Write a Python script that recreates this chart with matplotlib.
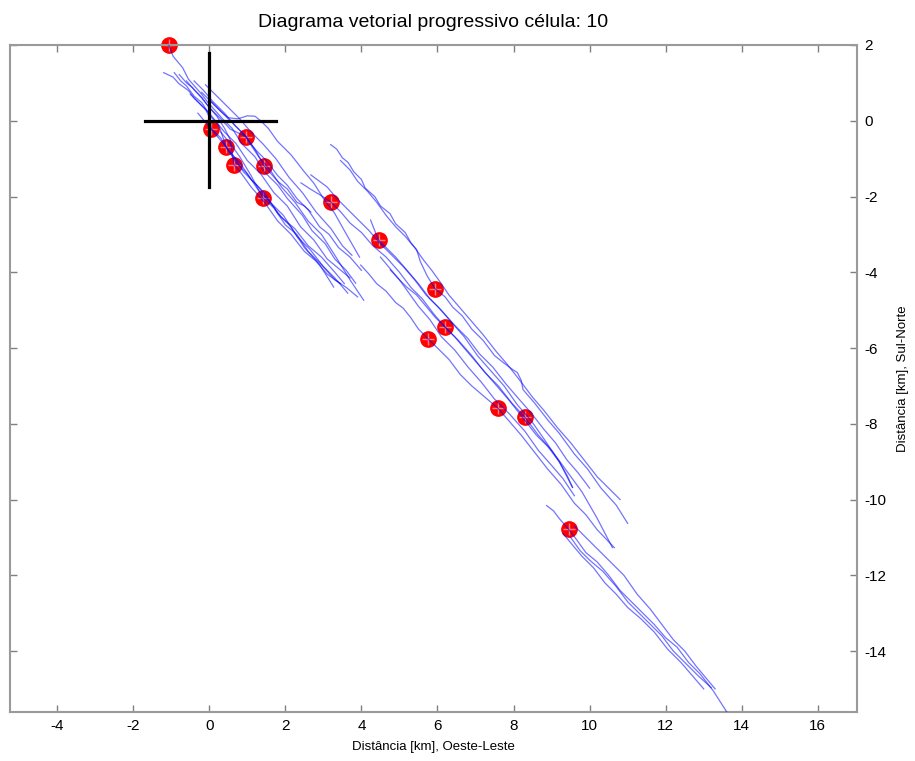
import matplotlib
matplotlib.use("Agg")
import matplotlib.pyplot as plt

plt.rcParams['font.family'] = ['Liberation Sans', 'DejaVu Sans']
plt.rcParams['axes.unicode_minus'] = False

# red markers (cell positions)
marker_x = [-1.07, 0.05, 0.445, 0.97, 0.65, 1.44, 1.41, 3.19, 4.45, 5.94, 6.20, 5.76, 7.59, 8.30, 9.45]
marker_y = [2.01, -0.21, -0.69, -0.42, -1.16, -1.19, -2.04, -2.14, -3.15, -4.44, -5.45, -5.77, -7.59, -7.83, -10.79]

# progressive vector tracks, each a list of (x, y) in km
tracks = [
    # upper-left dense band
    [(-1.07, 2.01), (-0.95, 1.7), (-0.7, 1.4), (-0.55, 1.1), (-0.2, 0.7), (-0.05, 0.5), (0.35, 0.05),
     (0.6, -0.2), (0.85, -0.6), (1.2, -0.95), (1.45, -1.35), (1.8, -1.7), (2.05, -2.05), (2.45, -2.5),
     (2.7, -2.9), (3.05, -3.25), (3.3, -3.65), (3.6, -3.95), (3.85, -4.29)],
    [(-1.2, 1.27), (-0.95, 1.15), (-0.8, 0.98), (-0.55, 0.8), (-0.4, 0.6), (-0.1, 0.3), (0.0, 0.1),
     (0.05, -0.21), (0.3, -0.45), (0.5, -0.8), (0.8, -1.1), (1.1, -1.55), (1.45, -1.9), (1.8, -2.45),
     (2.15, -2.8), (2.5, -3.35), (2.9, -3.8), (3.27, -4.39)],
    [(-0.92, 1.27), (-0.75, 1.05), (-0.6, 0.92), (-0.4, 0.65), (-0.2, 0.48), (0.05, 0.1), (0.25, -0.12),
     (0.445, -0.69), (0.65, -0.95), (0.9, -1.35), (1.25, -1.7), (1.6, -2.15), (1.95, -2.5), (2.3, -3.05),
     (2.65, -3.4), (3.0, -3.85), (3.3, -4.15), (3.64, -4.55)],
    [(-0.79, 1.22), (-0.6, 1.0), (-0.45, 0.88), (-0.2, 0.6), (0.0, 0.35), (0.3, 0.05), (0.55, -0.22),
     (0.97, -0.42), (1.1, -0.65), (1.3, -0.95), (1.6, -1.3), (1.9, -1.75), (2.25, -2.15), (2.6, -2.65),
     (2.95, -3.0), (3.3, -3.55), (3.7, -4.2), (4.06, -4.74)],
    [(-0.6, 1.05), (-0.4, 0.82), (-0.2, 0.62), (0.0, 0.35), (0.2, 0.12), (0.4, -0.2), (0.55, -0.5),
     (0.65, -1.16), (0.85, -1.4), (1.1, -1.75), (1.45, -2.15), (1.8, -2.65), (2.15, -3.0), (2.5, -3.45),
     (2.8, -3.7), (3.1, -4.05), (3.45, -4.3)],
    [(-0.2, 0.75), (0.05, 0.5), (0.3, 0.25), (0.6, -0.05), (0.9, -0.35), (1.2, -0.75), (1.44, -1.19),
     (1.8, -1.6), (2.05, -1.8), (2.3, -2.15), (2.5, -2.25), (2.67, -2.41)],
    [(0.0, 0.55), (0.3, 0.25), (0.5, 0.08), (0.75, 0.05), (1.0, 0.13), (1.2, 0.12), (1.35, 0.0),
     (1.55, -0.2), (1.8, -0.55), (2.15, -0.9), (2.5, -1.35), (2.75, -1.65), (3.0, -2.05), (3.3, -2.45),
     (3.55, -2.9), (3.75, -3.25), (3.95, -3.6)],
    [(0.3, -0.3), (0.55, -0.6), (0.8, -0.95), (1.1, -1.45), (1.41, -2.04), (1.7, -2.3), (2.0, -2.75),
     (2.3, -3.0), (2.6, -3.45), (2.95, -3.8), (3.3, -4.2), (3.6, -4.4), (3.9, -4.65)],
    [(-0.3, 0.2), (-0.05, -0.1), (0.2, -0.4), (0.45, -0.7), (0.7, -1.1), (1.0, -1.4), (1.3, -1.85),
     (1.6, -2.15), (1.9, -2.55), (2.25, -2.85), (2.6, -3.3), (2.95, -3.6), (3.3, -4.0), (3.55, -4.3)],
    [(-0.5, 0.7), (-0.25, 0.45), (0.0, 0.2), (0.2, -0.05), (0.4, -0.3), (0.7, -0.6), (1.0, -1.05),
     (1.35, -1.4), (1.7, -1.9), (2.05, -2.25), (2.4, -2.8), (2.75, -3.15), (3.1, -3.65), (3.4, -3.9),
     (3.7, -4.15)],
    [(-0.4, 1.05), (-0.15, 0.8), (0.1, 0.5), (0.4, 0.2), (0.7, -0.15), (0.95, -0.4), (1.2, -0.75),
     (1.5, -1.05), (1.8, -1.45), (2.05, -1.7), (2.3, -2.05), (2.6, -2.35), (2.9, -2.8), (3.15, -3.0),
     (3.4, -3.35), (3.7, -3.6), (4.0, -3.95)],
    [(-0.1, 0.95), (0.15, 0.7), (0.45, 0.4), (0.8, 0.05), (1.1, -0.3), (1.4, -0.6), (1.75, -1.0),
     (2.1, -1.5), (2.45, -1.9), (2.8, -2.4), (3.2, -2.85), (3.5, -3.3), (3.75, -3.55)],
    # upper right long track
    [(3.19, -0.63), (3.35, -0.75), (3.5, -0.98), (3.65, -1.1), (3.8, -1.35), (4.0, -1.55), (4.1, -1.78),
     (4.35, -2.0), (4.5, -2.25), (4.75, -2.45), (4.9, -2.72), (5.15, -2.95), (5.3, -3.22), (5.45, -3.4),
     (5.55, -3.72), (5.73, -4.1), (5.94, -4.44), (6.2, -4.65), (6.4, -4.92), (6.65, -5.15), (6.9, -5.5),
     (7.2, -5.8), (7.5, -6.2), (7.75, -6.4), (7.95, -6.55), (8.1, -6.65), (8.2, -6.85), (8.25, -7.1),
     (8.55, -7.45), (8.9, -7.9), (9.2, -8.25), (9.6, -8.8), (9.95, -9.2), (10.3, -9.7), (10.7, -10.15),
     (11.0, -10.63)],
    [(3.45, -1.05), (3.7, -1.3), (3.9, -1.6), (4.15, -1.85), (4.4, -2.15), (4.65, -2.5), (4.9, -2.8),
     (5.15, -3.05), (5.4, -3.35), (5.65, -3.7), (5.85, -3.95), (6.1, -4.3), (6.3, -4.6), (6.6, -4.95),
     (6.9, -5.3), (7.2, -5.65), (7.55, -6.1), (7.85, -6.45), (8.2, -6.9), (8.5, -7.3), (8.8, -7.65),
     (9.15, -8.1), (9.5, -8.5), (9.85, -8.95), (10.2, -9.4), (10.5, -9.7), (10.8, -10.0)],
    # middle band
    [(2.41, -1.64), (2.65, -1.8), (2.9, -1.95), (3.19, -2.14), (3.45, -2.4), (3.7, -2.7), (4.0, -2.95),
     (4.3, -3.3), (4.65, -3.6), (5.0, -4.0), (5.3, -4.4), (5.6, -4.7), (5.9, -5.1), (6.2, -5.45),
     (6.55, -5.8), (6.9, -6.2), (7.25, -6.65), (7.6, -7.0), (7.95, -7.45), (8.3, -7.83), (8.65, -8.3),
     (9.0, -8.7), (9.4, -9.25), (9.8, -9.8), (10.2, -10.5), (10.6, -11.27)],
    [(2.67, -1.43), (2.9, -1.6), (3.1, -1.75), (3.35, -2.05), (3.6, -2.3), (3.9, -2.6), (4.2, -2.9),
     (4.5, -3.25), (4.8, -3.55), (5.1, -3.85), (5.4, -4.2), (5.7, -4.6), (6.0, -4.9), (6.35, -5.3),
     (6.7, -5.7), (7.05, -6.2), (7.4, -6.6), (7.75, -7.0), (8.1, -7.5), (8.45, -7.9), (8.8, -8.4),
     (9.2, -9.0), (9.55, -9.68)],
    [(4.24, -2.62), (4.35, -2.9), (4.45, -3.15), (4.65, -3.35), (4.9, -3.6), (5.2, -3.95), (5.5, -4.3),
     (5.8, -4.7), (6.1, -5.0), (6.45, -5.4), (6.8, -5.75), (7.1, -6.15), (7.45, -6.5), (7.8, -6.95),
     (8.1, -7.3), (8.45, -7.7), (8.8, -8.15), (9.1, -8.5), (9.4, -8.95), (9.7, -9.3), (10.0, -9.7)],
    # lower band
    [(3.98, -3.81), (4.2, -4.05), (4.4, -4.3), (4.65, -4.5), (4.9, -4.8), (5.1, -4.95), (5.29, -5.19),
     (5.5, -5.5), (5.76, -5.77), (6.0, -6.0), (6.3, -6.3), (6.6, -6.7), (6.9, -7.0), (7.25, -7.3),
     (7.59, -7.59), (7.9, -7.95), (8.2, -8.3), (8.55, -8.75), (8.9, -9.2), (9.25, -9.6), (9.6, -10.1),
     (9.9, -10.4), (10.2, -10.8), (10.65, -11.27)],
    [(4.76, -3.94), (5.0, -4.2), (5.2, -4.4), (5.45, -4.6), (5.7, -4.9), (5.95, -5.2), (6.2, -5.45),
     (6.45, -5.7), (6.7, -6.0), (7.0, -6.35), (7.3, -6.7), (7.6, -7.05), (7.9, -7.4), (8.25, -7.85),
     (8.6, -8.3), (8.9, -8.6), (9.2, -9.0), (9.4, -9.35), (9.55, -9.68)],
    [(4.5, -3.6), (4.75, -3.9), (5.0, -4.2), (5.25, -4.55), (5.5, -4.9), (5.8, -5.25), (6.1, -5.7),
     (6.45, -6.05), (6.8, -6.5), (7.15, -6.9), (7.5, -7.35), (7.9, -7.75), (8.3, -8.2), (8.65, -8.7),
     (9.0, -9.1), (9.3, -9.45), (9.6, -9.9)],
    # bottom long band
    [(8.87, -10.16), (9.05, -10.3), (9.2, -10.5), (9.45, -10.79), (9.65, -11.05), (9.9, -11.4),
     (10.2, -11.65), (10.5, -12.0), (10.8, -12.4), (11.1, -12.7), (11.4, -13.0), (11.7, -13.3),
     (12.0, -13.65), (12.3, -13.9), (12.6, -14.3), (12.9, -14.6), (13.25, -15.05), (13.6, -15.6)],
    [(9.5, -11.0), (9.75, -11.35), (10.0, -11.6), (10.35, -11.9), (10.7, -12.3), (11.0, -12.7),
     (11.3, -13.0), (11.6, -13.3), (11.9, -13.6), (12.2, -14.0), (12.5, -14.3), (12.85, -14.65),
     (13.2, -14.97)],
    [(9.3, -10.9), (9.55, -11.2), (9.8, -11.5), (10.1, -11.8), (10.4, -12.2), (10.7, -12.5),
     (11.0, -12.85), (11.35, -13.15), (11.7, -13.5), (12.05, -13.95), (12.4, -14.3), (12.7, -14.65),
     (13.0, -15.0)],
    [(9.6, -10.7), (9.9, -11.0), (10.2, -11.3), (10.55, -11.65), (10.9, -12.0), (11.25, -12.5),
     (11.6, -12.9), (11.9, -13.3), (12.2, -13.7), (12.5, -14.0), (12.8, -14.4), (13.05, -14.7),
     (13.3, -15.0)],
]

# origin cross
cross_h = ([-1.68, 1.75], [0, 0])
cross_v = ([0, 0], [1.8, -1.75])

fig = plt.figure(figsize=(9.15, 7.61), dpi=100)
ax = fig.add_axes([10 / 915, 1 - 712 / 761, 847 / 915, 667 / 761])

ax.plot(marker_x, marker_y, 'o', color='red', ms=11, mec='red', zorder=2, clip_on=False)
ax.plot(marker_x, marker_y, '+', color='#ff8080', ms=8, mew=1, zorder=2, clip_on=False)

for t in tracks:
    xs, ys = zip(*t)
    ax.plot(xs, ys, '-', color='blue', lw=0.9, alpha=0.55, zorder=3)

ax.plot(*cross_h, color='black', lw=2.3, zorder=4)
ax.plot(*cross_v, color='black', lw=2.3, zorder=4)

ax.set_xlim(-5.24, 17.03)
ax.set_ylim(-15.61, 2.0)
ax.set_xticks(range(-4, 17, 2))
ax.set_yticks(range(-14, 3, 2))

for s in ax.spines.values():
    s.set_color('#9a9a9a')
    s.set_linewidth(1.5)
ax.tick_params(direction='in', length=5, width=1, color='#808080',
               top=True, right=True, left=True, bottom=True,
               labelleft=False, labelright=True, labelsize=11, pad=5)
ax.yaxis.set_label_position('right')

ax.set_title('Diagrama vetorial progressivo célula: 10', fontsize=14, pad=13)
ax.set_xlabel('Distância [km], Oeste-Leste', fontsize=9.5, labelpad=6)
ax.set_ylabel('Distância [km], Sul-Norte', fontsize=9.5, labelpad=8)

fig.savefig('out.png', dpi=100)
